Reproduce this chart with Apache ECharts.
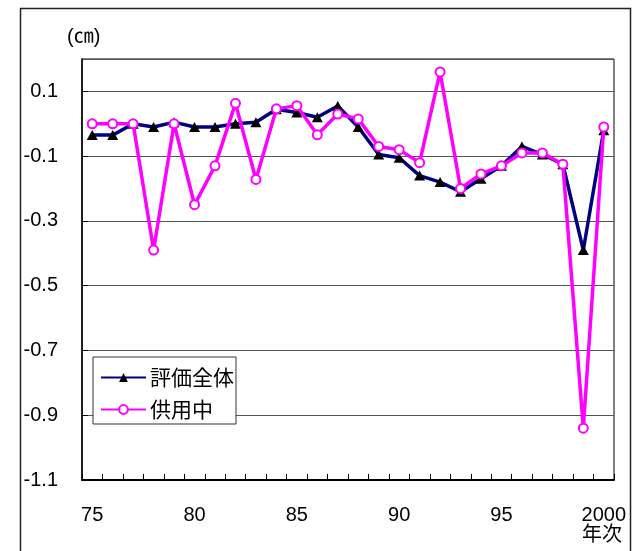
<!DOCTYPE html>
<html>
<head>
<meta charset="utf-8">
<script src="https://cdn.jsdelivr.net/npm/echarts@6/dist/echarts.min.js"></script>
<style>
html,body{margin:0;padding:0;background:#fff;}
#c{width:636px;height:551px;}
</style>
</head>
<body>
<div id="c"></div>
<script>
// Category labels (years 1975-2000)
const categories = ['75','76','77','78','79','80','81','82','83','84','85','86','87','88','89','90','91','92','93','94','95','96','97','98','99','2000'];
// 評価全体
const overallValues = [-0.035,-0.035,0.0,-0.01,0.005,-0.01,-0.01,0.0,0.005,0.045,0.035,0.02,0.055,-0.01,-0.095,-0.105,-0.16,-0.18,-0.21,-0.17,-0.13,-0.07,-0.095,-0.125,-0.39,-0.02];
// 供用中
const inServiceValues = [0.0,0.0,0.0,-0.39,0.0,-0.25,-0.13,0.063,-0.172,0.046,0.056,-0.034,0.03,0.015,-0.07,-0.08,-0.12,0.16,-0.2,-0.155,-0.13,-0.09,-0.09,-0.125,-0.94,-0.01];
const seriesNames = ['評価全体','供用中'];
const yUnit = '(㎝)';
const xUnit = '年次';

// detect narrow font
function hasFont(name){
  const c = document.createElement('canvas').getContext('2d');
  c.font = '40px monospace';
  const a = c.measureText('0123456789.-').width;
  c.font = "40px '" + name + "', monospace";
  const b = c.measureText('0123456789.-').width;
  return Math.abs(a-b) > 0.5;
}
const narrow = hasFont('Liberation Sans Narrow');
const numFont = narrow ? "'Liberation Sans Narrow'" : "'Liberation Sans'";
const numSize = narrow ? 23 : 20;
const cjkFont = "'Noto Sans CJK JP'";

const chart = echarts.init(document.getElementById('c'), null, {renderer:'canvas'});
chart.setOption({
  animation: false,
  backgroundColor: '#fff',
  grid: {left: 82, top: 59, width: 532, height: 421, show: true, borderColor: '#000', borderWidth: 1, containLabel: false},
  legend: {
    orient: 'vertical', left: 93, top: 357,
    padding: [10, 2, 4, 7],
    itemWidth: 45, itemHeight: 11, itemGap: 11,
    backgroundColor: '#fff', borderColor: '#333', borderWidth: 1,
    textStyle: {fontFamily: cjkFont, fontSize: 21, color: '#000', padding: [0,0,0,-1]},
    data: seriesNames
  },
  xAxis: {
    type: 'category', data: categories, boundaryGap: true,
    axisLine: {onZero: false, lineStyle: {color: '#000', width: 2}},
    axisTick: {show: true, inside: true, length: 6, interval: 0, lineStyle: {color: '#000', width: 1}},
    axisLabel: {interval: 4, margin: 25, color: '#000', fontFamily: numFont, fontSize: numSize},
    splitLine: {show: false}
  },
  yAxis: {
    type: 'value', min: -1.1, max: 0.2, interval: 0.2,
    axisLine: {show: true, lineStyle: {color: '#000', width: 1.5}},
    axisTick: {show: true, inside: true, length: 6, lineStyle: {color: '#000'}},
    axisLabel: {showMaxLabel: false, margin: 24, color: '#000', fontFamily: numFont, fontSize: numSize,
      formatter: v => (Math.round(v*10)/10).toFixed(1)},
    splitLine: {show: true, lineStyle: {color: '#555', width: 1}}
  },
  graphic: [
    {type: 'rect', left: 18, top: 6, z: -10, silent: true,
     shape: {x: 0, y: 0, width: 610, height: 600},
     style: {fill: 'none', stroke: '#222', lineWidth: 1.5}},
    {type: 'text', left: 67, top: 27, style: {text: yUnit, font: "20px " + numFont + ", " + cjkFont, fill: '#000'}},
    {type: 'text', left: 582, top: 523, style: {text: xUnit, font: "20px " + cjkFont, fill: '#000'}}
  ],
  series: [
    {name: seriesNames[0], type: 'line', data: overallValues, symbol: 'triangle', symbolSize: [11, 10],
     itemStyle: {color: '#000'}, lineStyle: {color: '#000080', width: 3.5}, z: 2},
    {name: seriesNames[1], type: 'line', data: inServiceValues, symbol: 'circle', symbolSize: 9,
     itemStyle: {color: '#fff', borderColor: '#ff00ff', borderWidth: 2}, lineStyle: {color: '#ff00ff', width: 3.5}, z: 3}
  ]
});
</script>
</body>
</html>
